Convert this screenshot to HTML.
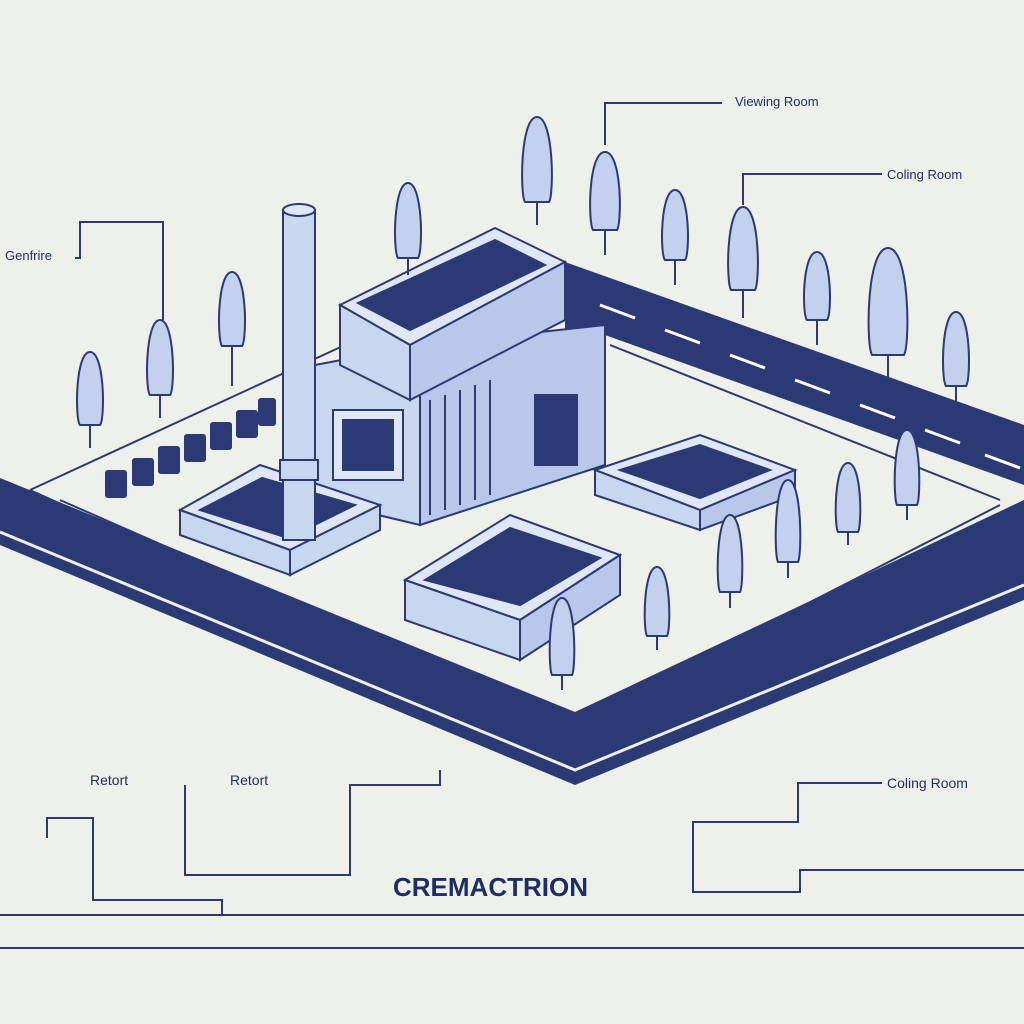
<!DOCTYPE html>
<html><head><meta charset="utf-8"><style>
html,body{margin:0;padding:0;background:#eef1e9;}
svg{display:block}
text{font-family:"Liberation Sans",sans-serif;fill:#1f2d66}
</style></head><body>
<svg width="1024" height="1024" viewBox="0 0 1024 1024" xmlns="http://www.w3.org/2000/svg">
<rect width="1024" height="1024" fill="#eef1e9"/>
<g stroke="#2b3a75" fill="none" stroke-width="2">
<polyline points="30,490 345,345"/>
<polyline points="30,490 560,730 1000,505"/>
<polyline points="60,500 560,720"/>
<polyline points="290,600 590,720 1024,510"/>
<polyline points="610,345 1000,500"/>
</g>
<polygon points="0,478 575,712 1024,500 1024,600 575,785 0,545" fill="#2b3a75"/>
<polyline points="0,532 575,770 1024,585" stroke="#eef1e9" stroke-width="3" fill="none"/>
<polygon points="565,262 1024,425 1024,485 605,335 565,330" fill="#2b3a75"/>
<g stroke="#fff" stroke-width="3">
<line x1="600" y1="305" x2="635" y2="318"/><line x1="665" y1="330" x2="700" y2="343"/>
<line x1="730" y1="355" x2="765" y2="368"/><line x1="795" y1="380" x2="830" y2="393"/>
<line x1="860" y1="405" x2="895" y2="418"/><line x1="925" y1="430" x2="960" y2="443"/>
<line x1="985" y1="455" x2="1020" y2="468"/>
</g>
<g stroke="#2b3a75" stroke-width="2" fill="#c9d6ef">
<polygon points="315,365 420,345 420,525 315,500"/>
<polygon points="420,345 605,325 605,465 420,525" fill="#b9c8ea"/>
<g fill="none"><line x1="430" y1="400" x2="430" y2="515"/><line x1="445" y1="395" x2="445" y2="510"/><line x1="460" y1="390" x2="460" y2="505"/><line x1="475" y1="385" x2="475" y2="500"/><line x1="490" y1="380" x2="490" y2="495"/></g>
<rect x="333" y="410" width="70" height="70" fill="#dfe6f5"/>
<rect x="343" y="420" width="50" height="50" fill="#2b3a75"/>
<rect x="535" y="395" width="42" height="70" fill="#2b3a75"/>
<polygon points="340,305 495,228 565,262 410,345" fill="#dfe6f5"/>
<polygon points="358,303 495,240 545,265 410,330" fill="#2b3a75"/>
<polygon points="340,305 410,345 410,400 340,365"/>
<polygon points="410,345 565,262 565,320 410,400" fill="#b9c8ea"/>
<polygon points="180,510 260,465 380,505 290,550" fill="#dfe6f5"/>
<polygon points="200,510 262,478 355,505 288,538" fill="#2b3a75"/>
<polygon points="180,510 290,550 290,575 180,535"/>
<polygon points="290,550 380,505 380,530 290,575"/>
<rect x="283" y="210" width="32" height="330" fill="#c9d6ef"/>
<ellipse cx="299" cy="210" rx="16" ry="6" fill="#dfe6f5"/>
<rect x="280" y="460" width="38" height="20"/>
<polygon points="405,580 510,515 620,555 520,620" fill="#dfe6f5"/>
<polygon points="425,580 510,528 600,558 520,605" fill="#2b3a75"/>
<polygon points="405,580 520,620 520,660 405,620"/>
<polygon points="520,620 620,555 620,595 520,660" fill="#b9c8ea"/>
<polygon points="595,470 700,435 795,470 700,510" fill="#dfe6f5"/>
<polygon points="620,470 700,445 770,470 700,498" fill="#2b3a75"/>
<polygon points="595,470 700,510 700,530 595,495"/>
<polygon points="700,510 795,470 795,495 700,530" fill="#b9c8ea"/>
</g>
<g fill="#2b3a75">
<rect x="105" y="470" width="22" height="28" rx="3"/><rect x="132" y="458" width="22" height="28" rx="3"/>
<rect x="158" y="446" width="22" height="28" rx="3"/><rect x="184" y="434" width="22" height="28" rx="3"/>
<rect x="210" y="422" width="22" height="28" rx="3"/><rect x="236" y="410" width="22" height="28" rx="3"/>
<rect x="258" y="398" width="18" height="28" rx="3"/>
</g>
<g stroke="#2b3a75" stroke-width="2" fill="#c3d0ee">
<path d="M90,352 C75,352 75,420 80,425 L100,425 C105,420 105,352 90,352Z"/><line x1="90" y1="425" x2="90" y2="448"/>
<path d="M160,320 C145,320 145,390 150,395 L170,395 C175,390 175,320 160,320Z"/><line x1="160" y1="395" x2="160" y2="418"/>
<path d="M232,272 C217,272 217,340 222,346 L242,346 C247,340 247,272 232,272Z"/><line x1="232" y1="346" x2="232" y2="386"/>
<path d="M408,183 C393,183 393,252 398,258 L418,258 C423,252 423,183 408,183Z"/><line x1="408" y1="258" x2="408" y2="275"/>
<path d="M537,117 C520,117 520,195 525,202 L549,202 C554,195 554,117 537,117Z"/><line x1="537" y1="202" x2="537" y2="225"/>
<path d="M605,152 C588,152 588,222 593,230 L617,230 C622,222 622,152 605,152Z"/><line x1="605" y1="230" x2="605" y2="255"/>
<path d="M675,190 C660,190 660,255 665,260 L685,260 C690,255 690,190 675,190Z"/><line x1="675" y1="260" x2="675" y2="285"/>
<path d="M743,207 C726,207 726,282 731,290 L755,290 C760,282 760,207 743,207Z"/><line x1="743" y1="290" x2="743" y2="318"/>
<path d="M817,252 C802,252 802,315 807,320 L827,320 C832,315 832,252 817,252Z"/><line x1="817" y1="320" x2="817" y2="345"/>
<path d="M888,248 C866,248 866,345 872,355 L904,355 C910,345 910,248 888,248Z"/><line x1="888" y1="355" x2="888" y2="378"/>
<path d="M956,312 C941,312 941,380 946,386 L966,386 C971,380 971,312 956,312Z"/><line x1="956" y1="386" x2="956" y2="410"/>
<path d="M907,430 C893,430 893,498 897,505 L917,505 C921,498 921,430 907,430Z"/><line x1="907" y1="505" x2="907" y2="520"/>
<path d="M848,463 C834,463 834,525 838,532 L858,532 C862,525 862,463 848,463Z"/><line x1="848" y1="532" x2="848" y2="545"/>
<path d="M788,480 C774,480 774,555 778,562 L798,562 C802,555 802,480 788,480Z"/><line x1="788" y1="562" x2="788" y2="578"/>
<path d="M730,515 C716,515 716,585 720,592 L740,592 C744,585 744,515 730,515Z"/><line x1="730" y1="592" x2="730" y2="608"/>
<path d="M657,567 C643,567 643,630 647,636 L667,636 C671,630 671,567 657,567Z"/><line x1="657" y1="636" x2="657" y2="650"/>
<path d="M562,598 C548,598 548,668 552,675 L572,675 C576,668 576,598 562,598Z"/><line x1="562" y1="675" x2="562" y2="690"/>
</g>
<g stroke="#2b3a75" stroke-width="2" fill="none">
<polyline points="605,145 605,103 722,103"/>
<polyline points="743,205 743,174 882,174"/>
<polyline points="75,258 80,258 80,222 163,222 163,320"/>
<polyline points="47,838 47,818 93,818 93,900 222,900 222,915"/>
<polyline points="185,785 185,875 350,875 350,785 440,785 440,770"/>
<polyline points="882,783 798,783 798,822 693,822 693,892 800,892 800,870 1024,870"/>
<line x1="0" y1="915" x2="1024" y2="915"/>
<line x1="0" y1="948" x2="1024" y2="948"/>
</g>
<text x="735" y="106" font-size="13">Viewing Room</text>
<text x="887" y="179" font-size="13">Coling Room</text>
<text x="5" y="260" font-size="13">Genfrire</text>
<text x="90" y="785" font-size="14">Retort</text>
<text x="230" y="785" font-size="14">Retort</text>
<text x="887" y="788" font-size="14">Coling Room</text>
<text x="393" y="896" font-size="26" font-weight="bold" fill="#2b3a75">CREMACTRION</text>
</svg>
</body></html>
